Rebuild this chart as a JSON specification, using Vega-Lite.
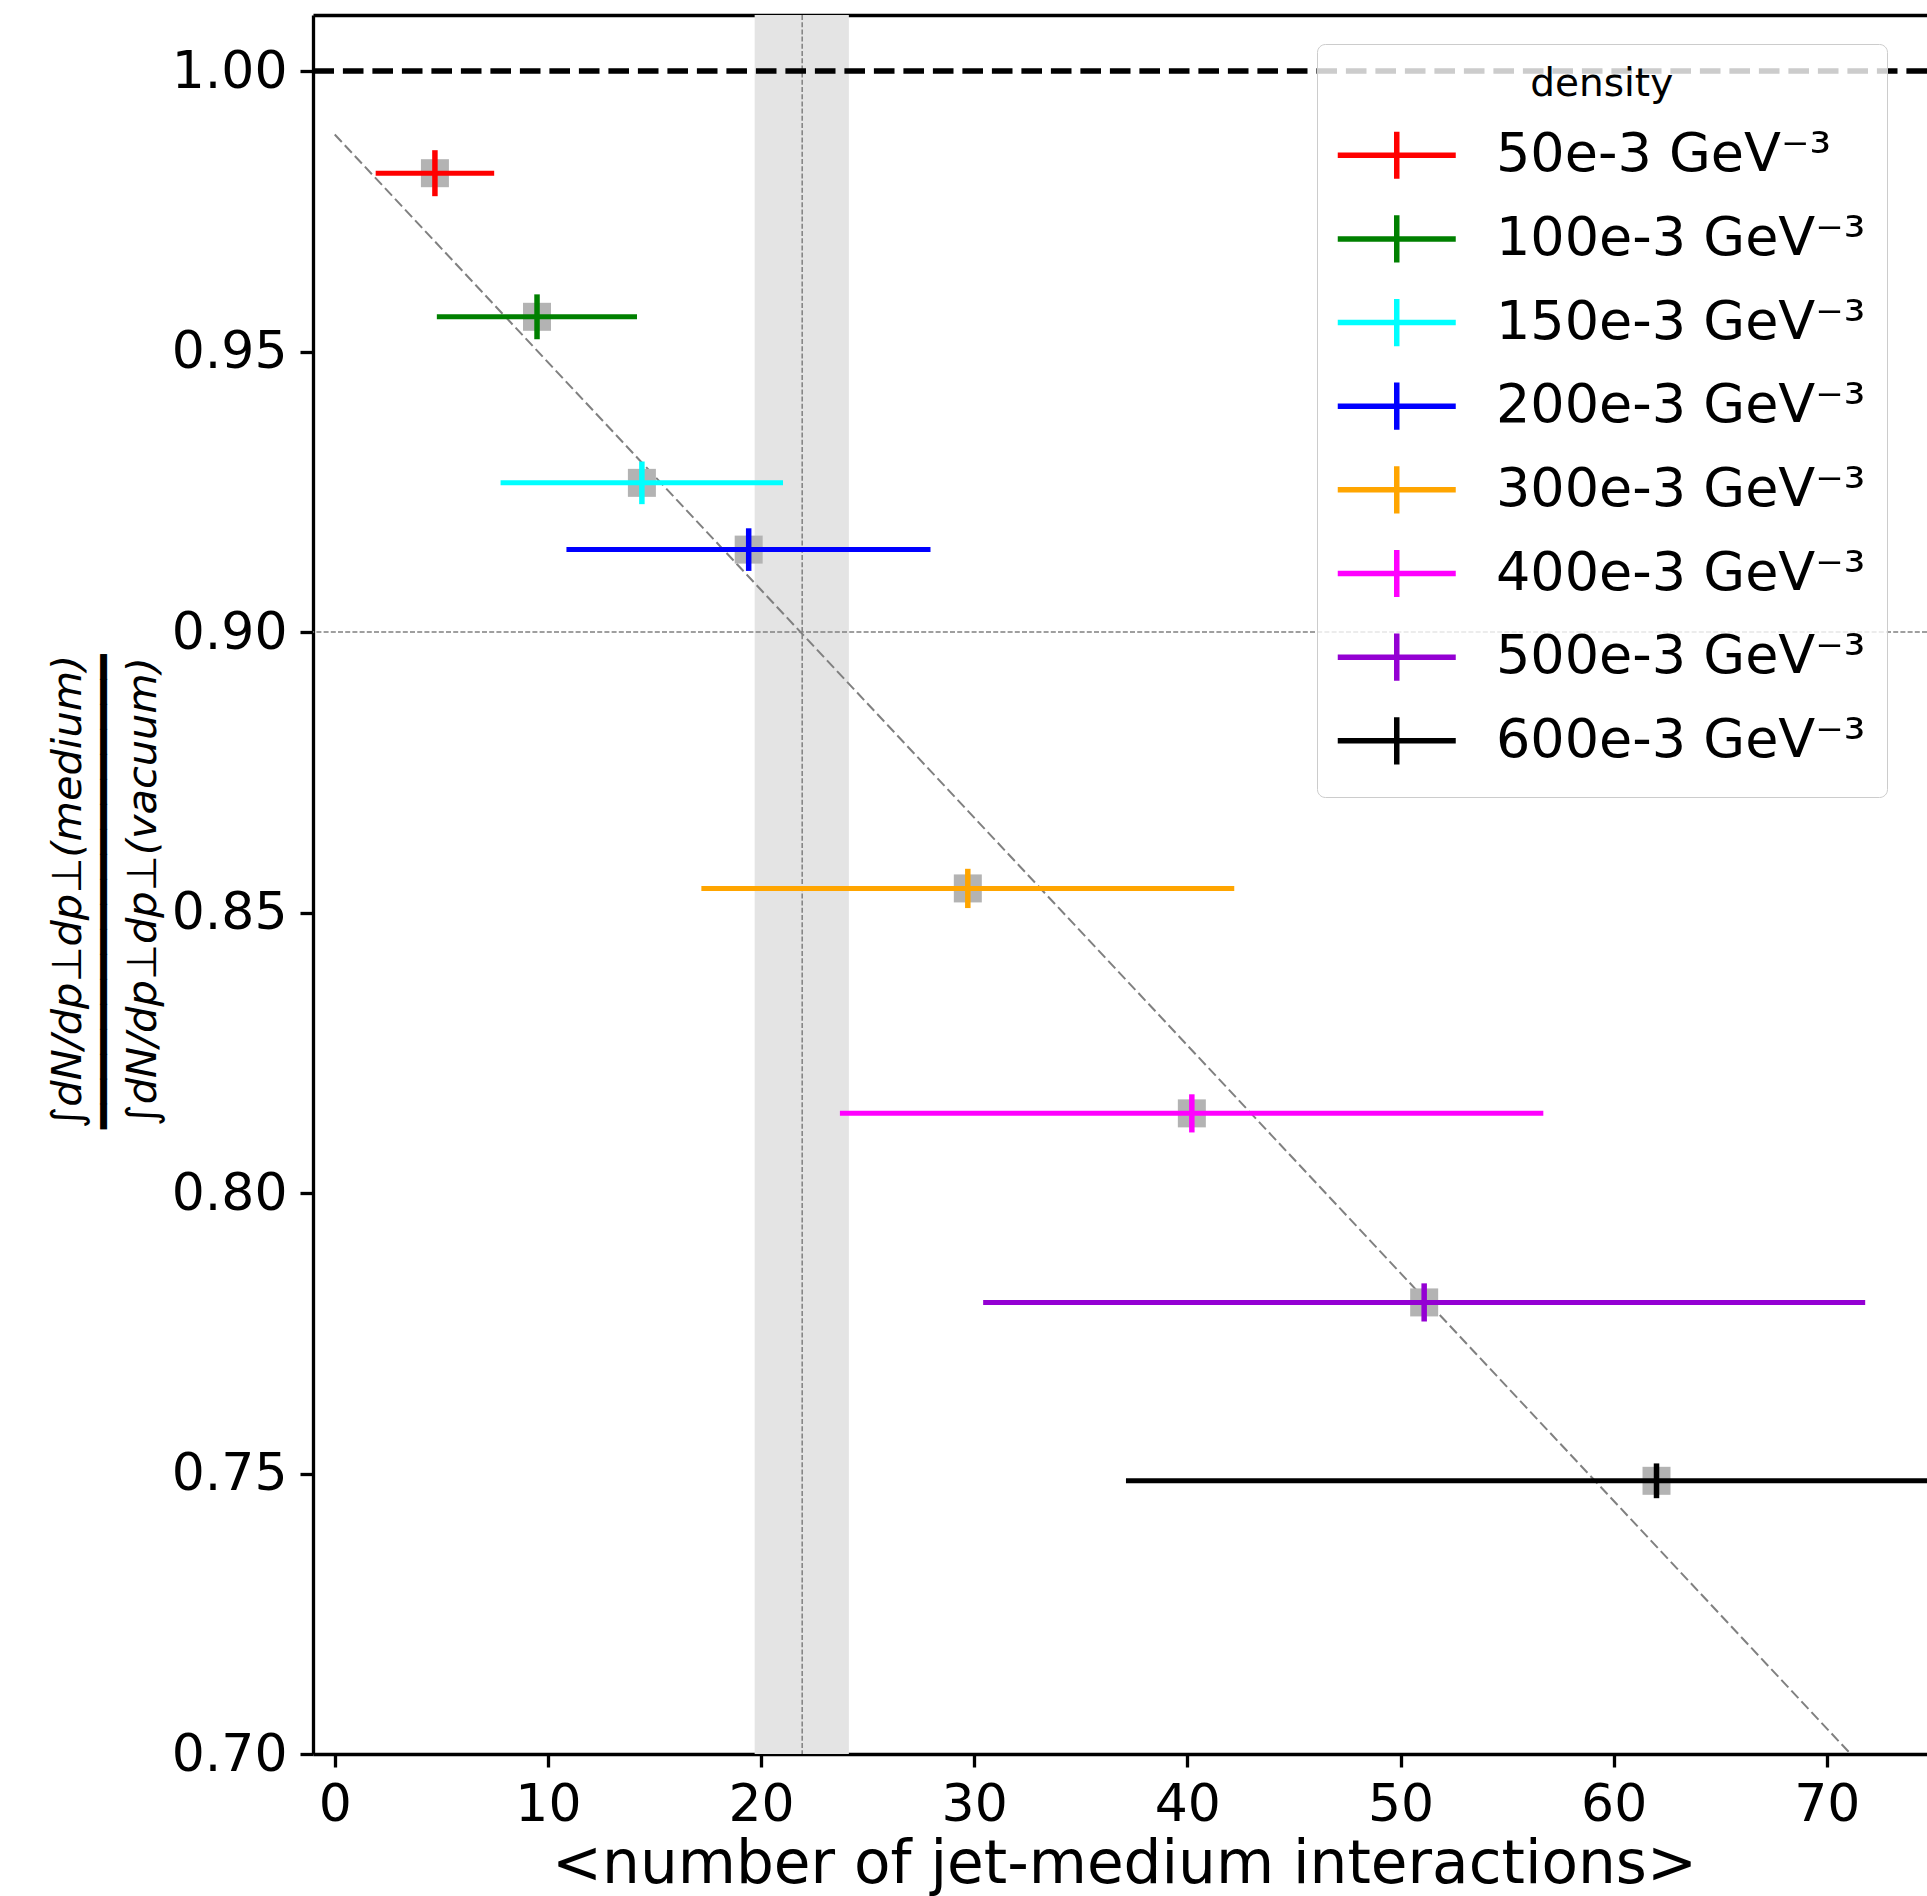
{
  "$schema": "https://vega.github.io/schema/vega-lite/v6.json",
  "autosize": {"type": "none"},
  "padding": {"left": 313, "top": 15, "right": 0, "bottom": 142},
  "width": 1614,
  "height": 1739,
  "background": "white",
  "config": {
    "font": "DejaVu Sans",
    "view": {"stroke": null},
    "axis": {
      "domainColor": "black", "domainWidth": 3.3,
      "tickColor": "black", "tickWidth": 3.3, "tickSize": 13,
      "labelColor": "black", "labelFontSize": 52, "labelFont": "DejaVu Sans",
      "titleColor": "black", "titleFont": "DejaVu Sans", "titleFontWeight": "normal",
      "grid": false, "labelFlush": false, "labelOverlap": false
    }
  },
  "datasets": {
    "points": [
      {"density": "50e-3 GeV⁻³", "x": 4.70, "y": 0.9818, "xlo": 1.92, "xhi": 7.48, "ylo": 0.9777, "yhi": 0.9859},
      {"density": "100e-3 GeV⁻³", "x": 9.49, "y": 0.9562, "xlo": 4.79, "xhi": 14.18, "ylo": 0.9522, "yhi": 0.9602},
      {"density": "150e-3 GeV⁻³", "x": 14.41, "y": 0.9266, "xlo": 7.78, "xhi": 21.03, "ylo": 0.9228, "yhi": 0.9304},
      {"density": "200e-3 GeV⁻³", "x": 19.42, "y": 0.9147, "xlo": 10.87, "xhi": 27.95, "ylo": 0.9109, "yhi": 0.9185},
      {"density": "300e-3 GeV⁻³", "x": 29.70, "y": 0.8543, "xlo": 17.20, "xhi": 42.20, "ylo": 0.8508, "yhi": 0.8578},
      {"density": "400e-3 GeV⁻³", "x": 40.21, "y": 0.8142, "xlo": 23.70, "xhi": 56.70, "ylo": 0.8108, "yhi": 0.8176},
      {"density": "500e-3 GeV⁻³", "x": 51.11, "y": 0.7805, "xlo": 30.42, "xhi": 71.80, "ylo": 0.7771, "yhi": 0.7839},
      {"density": "600e-3 GeV⁻³", "x": 62.01, "y": 0.7487, "xlo": 37.12, "xhi": 86.90, "ylo": 0.7456, "yhi": 0.7518}
    ],
    "band": [{"center": 21.93, "lo": 19.7, "hi": 24.12}],
    "refs": [{"ratio": 0.9}],
    "unity": [{"ratio": 1.0}],
    "fit": [{"n": 0, "ratio": 0.9887}, {"n": 71.12, "ratio": 0.70}]
  },
  "resolve": {"axis": {"x": "independent"}},
  "layer": [
    {
      "data": {"name": "band"},
      "mark": {"type": "rect", "color": "#e4e4e4", "clip": true},
      "encoding": {
        "x": {"field": "lo", "type": "quantitative",
          "scale": {"domain": [-1.02, 74.7], "nice": false, "zero": false},
          "axis": {
            "orient": "bottom", "values": [0, 10, 20, 30, 40, 50, 60, 70], "format": "d",
            "labelPadding": 12,
            "title": "<number of jet-medium interactions>", "titleFontSize": 59.7,
            "titleX": 811, "titleY": 128, "titleAlign": "center", "titleBaseline": "alphabetic"
          }},
        "x2": {"field": "hi"},
        "y": {"datum": 0.70, "type": "quantitative",
          "scale": {"domain": [0.70, 1.01], "nice": false, "zero": false},
          "axis": {
            "values": [0.70, 0.75, 0.80, 0.85, 0.90, 0.95, 1.00], "format": ".2f",
            "labelPadding": 13,
            "title": ["∫dN/dp⊥dp⊥(medium)", "━━━━━━━━━━━━━━━━━━━", "∫dN/dp⊥dp⊥(vacuum)"],
            "titleFontSize": 41.5, "titleFontStyle": "italic", "titleAngle": 270,
            "titleX": -233, "titleY": 876, "titleAlign": "center", "titleBaseline": "alphabetic",
            "titleLineHeight": 37.5
          }},
        "y2": {"datum": 1.01}
      }
    },
    {
      "data": {"name": "band"},
      "mark": {"type": "rule", "color": "#808080", "strokeWidth": 1.5, "strokeDash": [5, 2.2]},
      "encoding": {
        "x": {"field": "center", "type": "quantitative",
          "scale": {"domain": [-1.02, 74.7], "nice": false, "zero": false},
          "axis": {"orient": "top", "labels": false, "ticks": false, "title": null, "domain": true}}
      }
    },
    {
      "data": {"name": "refs"},
      "mark": {"type": "rule", "color": "#808080", "strokeWidth": 1.5, "strokeDash": [5, 2.2]},
      "encoding": {
        "y": {"field": "ratio", "type": "quantitative", "scale": {"domain": [0.70, 1.01], "nice": false, "zero": false}}
      }
    },
    {
      "data": {"name": "fit"},
      "mark": {"type": "line", "color": "#808080", "strokeWidth": 2, "strokeDash": [10.3, 4.4], "clip": true},
      "encoding": {
        "x": {"field": "n", "type": "quantitative", "scale": {"domain": [-1.02, 74.7], "nice": false, "zero": false}, "axis": null},
        "y": {"field": "ratio", "type": "quantitative", "scale": {"domain": [0.70, 1.01], "nice": false, "zero": false}}
      }
    },
    {
      "data": {"name": "unity"},
      "mark": {"type": "rule", "color": "black", "strokeWidth": 5.5, "strokeDash": [20.6, 8.9]},
      "encoding": {
        "y": {"field": "ratio", "type": "quantitative", "scale": {"domain": [0.70, 1.01], "nice": false, "zero": false}}
      }
    },
    {
      "data": {"name": "points"},
      "mark": {"type": "point", "shape": "square", "filled": true, "size": 784, "color": "#b3b3b3", "opacity": 1, "clip": true},
      "encoding": {
        "x": {"field": "x", "type": "quantitative", "scale": {"domain": [-1.02, 74.7], "nice": false, "zero": false}, "axis": null},
        "y": {"field": "y", "type": "quantitative", "scale": {"domain": [0.70, 1.01], "nice": false, "zero": false}}
      }
    },
    {
      "data": {"name": "points"},
      "mark": {"type": "rule", "strokeWidth": 5, "clip": true},
      "encoding": {
        "x": {"field": "xlo", "type": "quantitative", "scale": {"domain": [-1.02, 74.7], "nice": false, "zero": false}, "axis": null},
        "x2": {"field": "xhi"},
        "y": {"field": "y", "type": "quantitative", "scale": {"domain": [0.70, 1.01], "nice": false, "zero": false}},
        "color": {"field": "density", "type": "nominal",
          "scale": {
            "domain": ["50e-3 GeV⁻³", "100e-3 GeV⁻³", "150e-3 GeV⁻³", "200e-3 GeV⁻³", "300e-3 GeV⁻³", "400e-3 GeV⁻³", "500e-3 GeV⁻³", "600e-3 GeV⁻³"],
            "range": ["#ff0000", "#008000", "#00ffff", "#0000ff", "#ffa500", "#ff00ff", "#9400d3", "#000000"]
          },
          "legend": {
            "orient": "none", "legendX": 1004, "legendY": 29,
            "title": "density", "titleFontSize": 39, "titleFontWeight": "normal", "titleColor": "black",
            "titleAnchor": "middle", "titlePadding": 19, "titleFont": "DejaVu Sans",
            "labelFontSize": 54, "labelColor": "black", "labelFont": "DejaVu Sans", "labelLimit": 1000, "labelOffset": 66.75,
            "symbolType": "M-2,0H2M0,-0.8V0.8", "symbolSize": 3481, "symbolStrokeWidth": 5.5, "symbolOffset": 26.5,
            "padding": 20.75, "rowPadding": 12.65,
            "fillColor": "rgba(255,255,255,0.8)", "strokeColor": "#cccccc", "cornerRadius": 8
          }}
      }
    },
    {
      "data": {"name": "points"},
      "mark": {"type": "rule", "strokeWidth": 5.5, "clip": true},
      "encoding": {
        "x": {"field": "x", "type": "quantitative", "scale": {"domain": [-1.02, 74.7], "nice": false, "zero": false}, "axis": null},
        "y": {"field": "ylo", "type": "quantitative", "scale": {"domain": [0.70, 1.01], "nice": false, "zero": false}},
        "y2": {"field": "yhi"},
        "color": {"field": "density", "type": "nominal",
          "scale": {
            "domain": ["50e-3 GeV⁻³", "100e-3 GeV⁻³", "150e-3 GeV⁻³", "200e-3 GeV⁻³", "300e-3 GeV⁻³", "400e-3 GeV⁻³", "500e-3 GeV⁻³", "600e-3 GeV⁻³"],
            "range": ["#ff0000", "#008000", "#00ffff", "#0000ff", "#ffa500", "#ff00ff", "#9400d3", "#000000"]
          }}
      }
    }
  ]
}
